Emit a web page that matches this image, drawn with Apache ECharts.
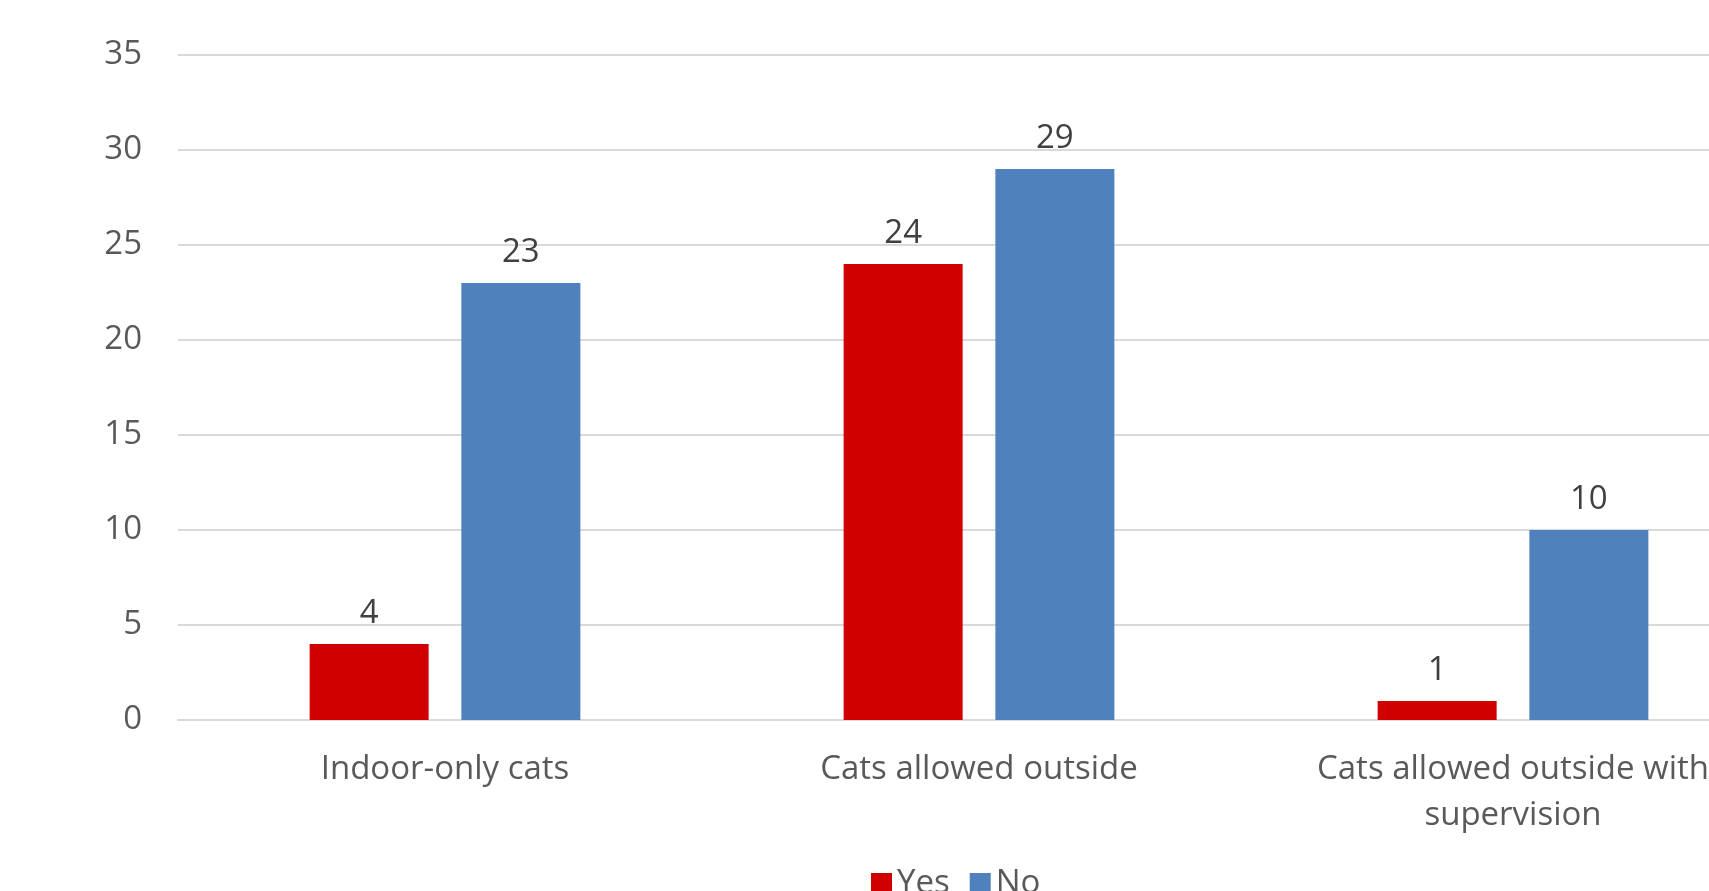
<!DOCTYPE html>
<html>
<head>
<meta charset="utf-8">
<script src="https://cdn.jsdelivr.net/npm/echarts@6/dist/echarts.min.js"></script>
<style>
html,body{margin:0;padding:0;background:#fff;overflow:hidden;width:1709px;height:891px;}
#chart{width:1780px;height:891px;}
</style>
</head>
<body>
<div id="chart"></div>
<script>
const categories = ['Indoor-only cats', 'Cats allowed outside', 'Cats allowed outside with\nsupervision'];
const yesValues = [4, 24, 1];
const noValues = [23, 29, 10];
const seriesNames = ['Yes', 'No'];

const chart = echarts.init(document.getElementById('chart'));
const font = 'Open Sans';
chart.setOption({
  animation: false,
  backgroundColor: '#ffffff',
  grid: { left: 178, right: 0, top: 55, bottom: 171, containLabel: false },
  legend: {
    data: seriesNames,
    top: 862,
    left: 866,
    itemWidth: 21, itemHeight: 21, itemGap: 20,
    icon: 'rect',
    textStyle: { fontFamily: font, fontSize: 33, color: '#595959' }
  },
  xAxis: {
    type: 'category',
    data: categories,
    axisLine: { show: true, lineStyle: { color: '#d9d9d9', width: 2 } },
    axisTick: { show: false },
    axisLabel: { fontFamily: font, fontSize: 33, color: '#595959', margin: 27, lineHeight: 46, interval: 0 }
  },
  yAxis: {
    type: 'value',
    min: 0, max: 35, interval: 5,
    axisLine: { show: false },
    axisTick: { show: false },
    splitLine: { lineStyle: { color: '#d9d9d9', width: 2 } },
    axisLabel: { fontFamily: font, fontSize: 33, color: '#595959', margin: 36 }
  },
  series: [
    {
      name: seriesNames[0], type: 'bar', data: yesValues,
      itemStyle: { color: '#d00000' },
      barWidth: 119, barGap: '27.5%',
      label: { show: true, position: 'top', distance: 14, fontFamily: font, fontSize: 33, color: '#404040' }
    },
    {
      name: seriesNames[1], type: 'bar', data: noValues,
      itemStyle: { color: '#4f81bd' },
      barWidth: 119, barGap: '27.5%',
      label: { show: true, position: 'top', distance: 14, fontFamily: font, fontSize: 33, color: '#404040' }
    }
  ]
});
</script>
</body>
</html>
